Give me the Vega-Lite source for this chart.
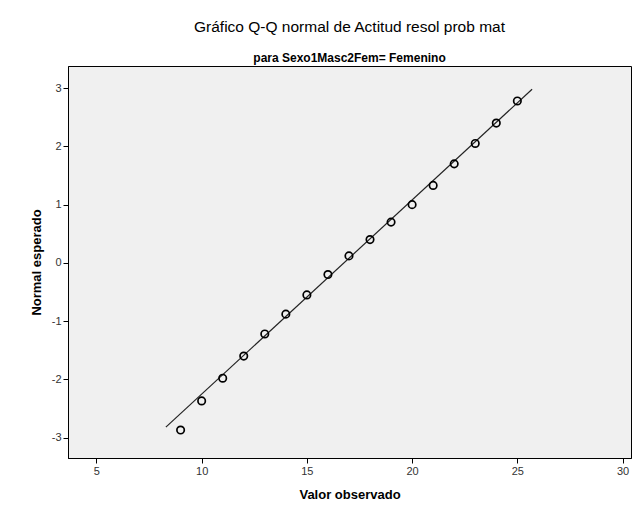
{
  "$schema": "https://vega.github.io/schema/vega-lite/v6.json",
  "width": 563,
  "height": 392,
  "autosize": {"type": "none"},
  "padding": {"left": 68, "top": 66, "right": 11, "bottom": 58},
  "background": "white",
  "title": {
    "text": "Gráfico Q-Q normal de Actitud resol prob mat",
    "subtitle": "para Sexo1Masc2Fem= Femenino",
    "anchor": "middle",
    "font": "Liberation Sans",
    "fontSize": 15.5,
    "fontWeight": "normal",
    "color": "black",
    "subtitleFont": "Liberation Sans",
    "subtitleFontSize": 12,
    "subtitleFontWeight": "bold",
    "subtitleColor": "black",
    "subtitlePadding": 18,
    "offset": 2
  },
  "config": {
    "view": {"fill": "#f0f0f0", "stroke": "black", "strokeWidth": 1},
    "axis": {
      "grid": false,
      "domainColor": "black",
      "tickColor": "black",
      "tickSize": 5,
      "labelFont": "Liberation Sans",
      "labelFontSize": 11,
      "labelColor": "#333333",
      "labelExpr": "'' + datum.value",
      "titleFont": "Liberation Sans",
      "titleFontSize": 13,
      "titleFontWeight": "bold",
      "titleColor": "black"
    }
  },
  "layer": [
    {
      "data": {"values": [
        {"obs": 8.3, "exp": -2.82},
        {"obs": 25.7, "exp": 2.98}
      ]},
      "mark": {"type": "line", "color": "#222222", "strokeWidth": 1.2},
      "encoding": {
        "x": {"field": "obs", "type": "quantitative", "scale": {"domain": [3.65, 30.4], "nice": false, "zero": false}, "axis": {"values": [5, 10, 15, 20, 25, 30], "title": "Valor observado", "titlePadding": 12}},
        "y": {"field": "exp", "type": "quantitative", "scale": {"domain": [-3.35, 3.38], "nice": false, "zero": false}, "axis": {"values": [-3, -2, -1, 0, 1, 2, 3], "title": "Normal esperado", "titlePadding": 8}}
      }
    },
    {
      "data": {"values": [
        {"obs": 9, "exp": -2.87},
        {"obs": 10, "exp": -2.37},
        {"obs": 11, "exp": -1.98},
        {"obs": 12, "exp": -1.60},
        {"obs": 13, "exp": -1.22},
        {"obs": 14, "exp": -0.88},
        {"obs": 15, "exp": -0.55},
        {"obs": 16, "exp": -0.20},
        {"obs": 17, "exp": 0.12},
        {"obs": 18, "exp": 0.40},
        {"obs": 19, "exp": 0.70},
        {"obs": 20, "exp": 1.00},
        {"obs": 21, "exp": 1.33},
        {"obs": 22, "exp": 1.70},
        {"obs": 23, "exp": 2.05},
        {"obs": 24, "exp": 2.40},
        {"obs": 25, "exp": 2.78}
      ]},
      "mark": {"type": "point", "shape": "circle", "filled": false, "color": "black", "size": 55, "strokeWidth": 1.7, "opacity": 1},
      "encoding": {
        "x": {"field": "obs", "type": "quantitative"},
        "y": {"field": "exp", "type": "quantitative"}
      }
    }
  ]
}
